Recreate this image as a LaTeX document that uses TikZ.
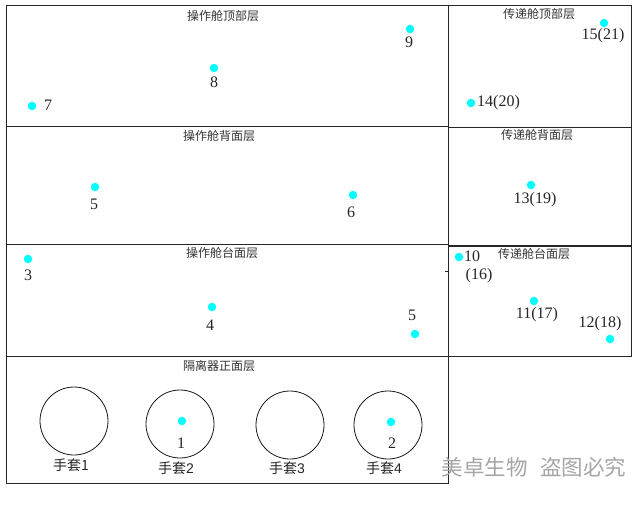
\documentclass[tikz,border=0pt]{standalone}
\usepackage{fontspec}
\setmainfont{Liberation Serif}
\newfontfamily\cjk{Noto Sans CJK SC}
\newfontfamily\lsans{Liberation Sans}
\definecolor{ptcyan}{RGB}{0,255,255}
\tikzset{
  panel/.style={draw=black!85, line width=1pt},
  pt/.style={circle, fill=ptcyan, draw=none, inner sep=0pt, minimum size=8.5pt},
  num/.style={font=\fontsize{16}{16}\selectfont, inner sep=0pt, text=black!85},
  ttl/.style={font=\cjk\fontsize{12}{12}\selectfont, inner sep=0pt, text=black!80},
  glove/.style={circle, draw=black!90, line width=0.8pt, minimum size=68pt, inner sep=0pt},
  glab/.style={font=\cjk\fontsize{14}{14}\selectfont, inner sep=0pt, text=black!85},
  wm/.style={font=\cjk\fontsize{21.5}{21.5}\selectfont, inner sep=0pt, text=black!35}
}
\begin{document}
\begin{tikzpicture}[x=1pt,y=-1pt]
\useasboundingbox[fill=white] (0,0) rectangle (638,506);
% panels
\draw[panel] (6,5) rectangle (448,126);
\draw[panel] (448,5) rectangle (631,127);
\draw[panel] (6,126) rectangle (448,244);
\draw[panel] (448,127) rectangle (631,245);
\draw[panel] (6,244) rectangle (448,356);
\draw[panel] (448,246) rectangle (631,356);
\draw[panel] (6,356) rectangle (448,483);
\draw[black!85, line width=0.6pt] (445,271) -- (448,271);
% titles
\node[ttl] (t1) at (223,16) {操作舱顶部层};
\node[ttl] (t2) at (539,14) {传递舱顶部层};
\node[ttl] (t3) at (219,136) {操作舱背面层};
\node[ttl] (t4) at (537,135) {传递舱背面层};
\node[ttl] (t5) at (222,253) {操作舱台面层};
\node[ttl] (t6) at (534,254) {传递舱台面层};
\node[ttl] (t7) at (219,366) {隔离器正面层};
% gloves
\node[glove] (g1) at (74,421) {};
\node[glove] (g2) at (180,424) {};
\node[glove] (g3) at (290,425) {};
\node[glove] (g4) at (388,425) {};
\node[glab] (gl1) at (71,465) {手套1};
\node[glab] (gl2) at (176,468) {手套{\lsans 2}};
\node[glab] (gl3) at (287,468) {手套{\lsans 3}};
\node[glab] (gl4) at (384,468) {手套{\lsans 4}};
% points
\node[pt] (p7) at (32,106) {};  \node[num] (l7) at (48,105) {7};
\node[pt] (p8) at (214,68) {};  \node[num] (l8) at (214,82) {8};
\node[pt] (p9) at (410,29) {};  \node[num] (l9) at (409,42) {9};
\node[pt] (p15) at (604,23) {}; \node[num] (l15) at (603,36) {15(21)};
\node[pt] (p14) at (471,103) {}; \node[num, anchor=west] (l14) at (477,103) {14(20)};
\node[pt] (p5a) at (95,187) {};  \node[num] (l5a) at (94,204) {5};
\node[pt] (p6) at (353,195) {};  \node[num] (l6) at (351,212) {6};
\node[pt] (p13) at (531,185) {}; \node[num] (l13) at (535,200) {13(19)};
\node[pt] (p3) at (28,259) {};   \node[num] (l3) at (28,275) {3};
\node[pt] (p4) at (212,307) {};  \node[num] (l4) at (210,325) {4};
\node[pt] (p5b) at (415,334) {}; \node[num] (l5b) at (412,315) {5};
\node[pt] (p10) at (459,257) {}; \node[num, anchor=west] (l10) at (464,256) {10};
\node[num] (l16) at (479,276) {(16)};
\node[pt] (p11) at (534,301) {}; \node[num] (l11) at (537,315) {11(17)};
\node[pt] (p12) at (610,339) {}; \node[num] (l12) at (600,324) {12(18)};
\node[pt] (p1) at (182,421) {};  \node[num] (l1) at (181,443) {1};
\node[pt] (p2) at (391,422) {};  \node[num] (l2) at (392,443) {2};
% watermark
\node[wm] (w) at (534,467) {美卓生物\hspace{0.6em}盗图必究};
\end{tikzpicture}
\end{document}
